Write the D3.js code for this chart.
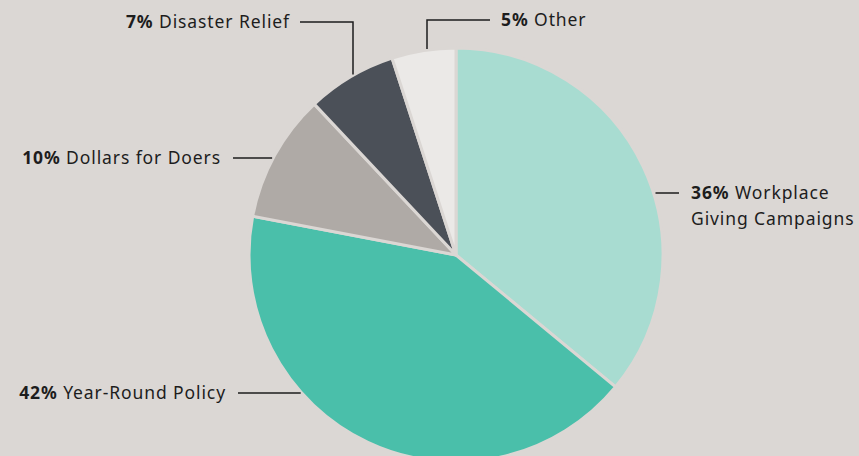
<!DOCTYPE html>
<html>
<head>
<meta charset="utf-8">
<script src="https://cdn.jsdelivr.net/npm/d3@7"></script>
<style>
  html, body { margin: 0; padding: 0; background: #dbd7d4; }
  svg { display: block; }
  .label { font-family: "Noto Sans", sans-serif; font-size: 17.5px; letter-spacing: 0.9px; fill: #1d1d1d; }
  .label .pct { font-weight: 700; }
  .leader { stroke: #1d1d1d; stroke-width: 1.5; fill: none; }
</style>
</head>
<body>
<div id="chart"></div>
<script>
// slices in drawing order, clockwise from 12 o'clock
const categories = ['Workplace Giving Campaigns', 'Year-Round Policy', 'Dollars for Doers', 'Disaster Relief', 'Other'];
const shares = [36, 42, 10, 7, 5];
const labelLines = [['Workplace', 'Giving Campaigns'], ['Year-Round Policy'], ['Dollars for Doers'], ['Disaster Relief'], ['Other']];
const colors = ['#a8dcd1', '#4abfaa', '#afaaa6', '#4b5058', '#ebe9e7'];

const width = 859, height = 456;
const cx = 456, cy = 255, r = 207;

// label placement: side, anchor point of text, and where the leader runs
const labelLayout = [
  { side: 'right', y: 193, textX: 691 },
  { side: 'left', y: 393, textX: 226 },
  { side: 'left', y: 158, textX: 221 },
  { side: 'top', y: 22, textX: 290, elbowX: 353 },
  { side: 'topRight', y: 20, textX: 501, elbowX: 427 }
];

const svg = d3.select('#chart').append('svg')
  .attr('width', width)
  .attr('height', height);

const pie = d3.pie().sort(null).value(d => d);
const arc = d3.arc().innerRadius(0).outerRadius(r);

const g = svg.append('g').attr('transform', `translate(${cx},${cy})`);

g.selectAll('path.slice')
  .data(pie(shares))
  .enter()
  .append('path')
  .attr('class', 'slice')
  .attr('d', arc)
  .attr('fill', (d, i) => colors[i])
  .attr('stroke', '#dbd7d4')
  .attr('stroke-width', 3)
  .attr('stroke-linejoin', 'round');

// x on the circle edge for a given y, and y for a given x
const edgeX = (y, sign) => cx + sign * Math.sqrt(r * r - (y - cy) * (y - cy));
const edgeY = (x) => cy - Math.sqrt(r * r - (x - cx) * (x - cx));

labelLayout.forEach((L, i) => {
  let pts, anchor;
  if (L.side === 'right') {
    pts = [[edgeX(L.y, 1) + 2, L.y], [L.textX - 12, L.y]];
    anchor = 'start';
  } else if (L.side === 'left') {
    pts = [[L.textX + 12, L.y], [edgeX(L.y, -1) - 1, L.y]];
    anchor = 'end';
  } else if (L.side === 'top') {
    pts = [[L.textX + 10, L.y], [L.elbowX, L.y], [L.elbowX, edgeY(L.elbowX) - 1]];
    anchor = 'end';
  } else {
    pts = [[L.textX - 11, L.y], [L.elbowX, L.y], [L.elbowX, edgeY(L.elbowX) - 1]];
    anchor = 'start';
  }
  svg.append('path')
    .attr('class', 'leader')
    .attr('d', d3.line()(pts));

  const t = svg.append('text')
    .attr('class', 'label')
    .attr('x', L.textX)
    .attr('y', L.y + 6)
    .attr('text-anchor', anchor);
  const lines = labelLines[i];
  const first = t.append('tspan').attr('x', L.textX);
  first.append('tspan').attr('class', 'pct').text(shares[i] + '%');
  first.append('tspan').text(' ' + lines[0]);
  lines.slice(1).forEach(s => {
    t.append('tspan').attr('x', L.textX).attr('dy', 26).text(s);
  });
});
</script>
</body>
</html>
